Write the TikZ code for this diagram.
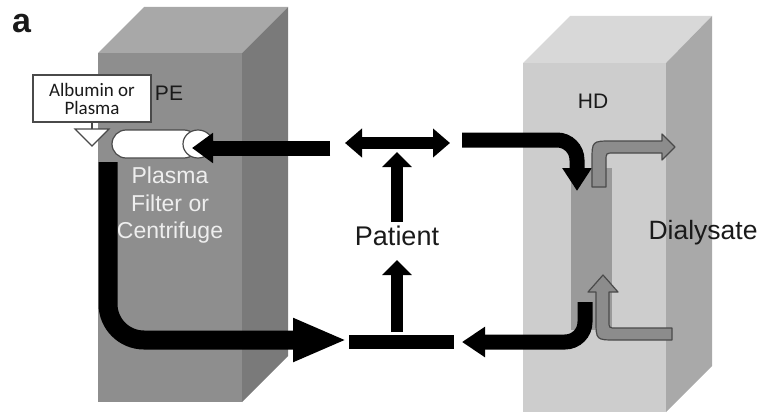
\documentclass[tikz,border=0pt]{standalone}
\usepackage{fontspec}
\setmainfont{Liberation Sans}
\newfontfamily\calib{Carlito}
\usetikzlibrary{arrows.meta}
\definecolor{peTop}{HTML}{A8A8A8}
\definecolor{peFront}{HTML}{8E8E8E}
\definecolor{peSide}{HTML}{7A7A7A}
\definecolor{hdTop}{HTML}{D8D8D8}
\definecolor{hdFront}{HTML}{CDCDCD}
\definecolor{hdSide}{HTML}{A9A9A9}
\definecolor{stripc}{HTML}{9A9A9A}
\definecolor{grayArrow}{HTML}{8C8C8C}
\definecolor{grayEdge}{HTML}{4A4A4A}
\definecolor{txt}{HTML}{1A1A1A}
\definecolor{lighttxt}{HTML}{EEEEEE}
\begin{document}
\begin{tikzpicture}[x=1pt,y=-1pt,
  label/.style={inner sep=0pt,anchor=base,text=txt},
  pftext/.style={inner sep=0pt,anchor=base,text=lighttxt,font=\fontsize{23}{27}\selectfont},
  blackflow/.style={draw=black,line width=#1},
  grayflow/.style={fill=grayArrow,draw=grayEdge,line width=1.2pt,line join=round},
  outline/.style={draw=grayEdge,line width=1.2pt,fill=white}]
\useasboundingbox (0,0) rectangle (762,412);
% PE box
\fill[peTop] (98,53) -- (144,7) -- (288,7) -- (242,53) -- cycle;
\fill[peSide] (242,53) -- (288,7) -- (288,356) -- (242,402) -- cycle;
\fill[peFront] (98,53) rectangle (242,402);
% HD box
\fill[hdTop] (523,63) -- (570,16) -- (712,16) -- (666,63) -- cycle;
\fill[hdSide] (666,63) -- (712,16) -- (712,366) -- (666,412) -- cycle;
\fill[hdFront] (523,63) rectangle (666,412);
% dialyser strip
\fill[stripc] (571,168) rectangle (612,330);
% labels
\node[label,font=\bfseries\fontsize{34}{34}\selectfont,anchor=base west] (lbla) at (12,33) {a};
\node[label,font=\fontsize{21}{21}\selectfont] (pe) at (169,100) {PE};
\node[label,font=\fontsize{21}{21}\selectfont] (hd) at (593,108) {HD};
\node[label,font=\fontsize{27}{27}\selectfont] (patient) at (397,245) {Patient};
\node[label,font=\fontsize{26.5}{26.5}\selectfont] (dial) at (703,239) {Dialysate};
\node[pftext] (pf1) at (170,183) {Plasma};
\node[pftext] (pf2) at (170,211) {Filter or};
\node[pftext] (pf3) at (170,238) {Centrifuge};
% cylinder (plasma filter)
\draw[outline,rounded corners=14pt] (112,130) rectangle (198,158);
\draw[outline] (198,144) ellipse [x radius=15, y radius=14];
% albumin box and triangle
\node[draw=grayEdge,line width=1.2pt,fill=white,minimum width=118pt,minimum height=47pt,inner sep=0pt,
      align=center,text=txt,font=\calib\fontsize{19}{18}\selectfont] (alb) at (92,98.5) {Albumin or\\Plasma};
\coordinate (tritop) at (92,129);
\draw[outline] (75,129) -- (109,129) -- (92,146) -- cycle;
\draw[grayEdge,line width=1.2pt] (alb.south) -- (tritop);
% coordinates for flows
\coordinate (a1s) at (330,148);
\coordinate (a1e) at (192,148);
\coordinate (dl) at (345,143);
\coordinate (dr) at (450,143);
\coordinate (u1s) at (397,222);
\coordinate (u1e) at (397,152);
\coordinate (u2s) at (397,332);
\coordinate (u2e) at (397,260);
\coordinate (bl) at (349,342);
\coordinate (br) at (454,342);
\coordinate (lfs) at (108,162);
\coordinate (lfc) at (108,340);
\coordinate (lfe) at (347,340);
\coordinate (rts) at (462,140);
\coordinate (rtc) at (577,140);
\coordinate (rte) at (577,191);
\coordinate (rbs) at (585,302);
\coordinate (rbc) at (585,342);
\coordinate (rbe) at (462,342);
% black flows
\draw[blackflow=15pt,-{Triangle[width=29pt,length=21pt]}] (a1s) -- (a1e);
\draw[blackflow=12pt,{Triangle[width=28pt,length=17pt]}-{Triangle[width=28pt,length=17pt]}] (dl) -- (dr);
\draw[blackflow=12pt,-{Triangle[width=29pt,length=15pt]}] (u1s) -- (u1e);
\draw[blackflow=12pt,-{Triangle[width=29pt,length=15pt]}] (u2s) -- (u2e);
\draw[blackflow=14pt] (bl) -- (br);
\draw[blackflow=19pt,rounded corners=36pt,-{Triangle[width=40pt,length=54pt]}] (lfs) -- (lfc) -- (lfe);
\draw[blackflow=15pt,rounded corners=20pt,-{Triangle[width=28pt,length=23pt]}] (rts) -- (rtc) -- (rte);
\draw[blackflow=15pt,rounded corners=20pt,-{Triangle[width=29pt,length=23pt]}] (rbs) -- (rbc) -- (rbe);
% gray dialysate flows
\draw[grayflow] (592,187) -- (592,161) .. controls (592,141) .. (612,141) -- (662,141) -- (662,134)
   -- (675,147) -- (662,160) -- (662,153) -- (614,153) .. controls (606,153) .. (606,161) -- (606,187) -- cycle;
\draw[grayflow] (672,328) -- (616,328) .. controls (609,328) .. (609,321) -- (609,292) -- (618,292)
   -- (603,275) -- (588,292) -- (596,292) -- (596,320) .. controls (596,340) .. (616,340) -- (672,340) -- cycle;
\end{tikzpicture}
\end{document}
